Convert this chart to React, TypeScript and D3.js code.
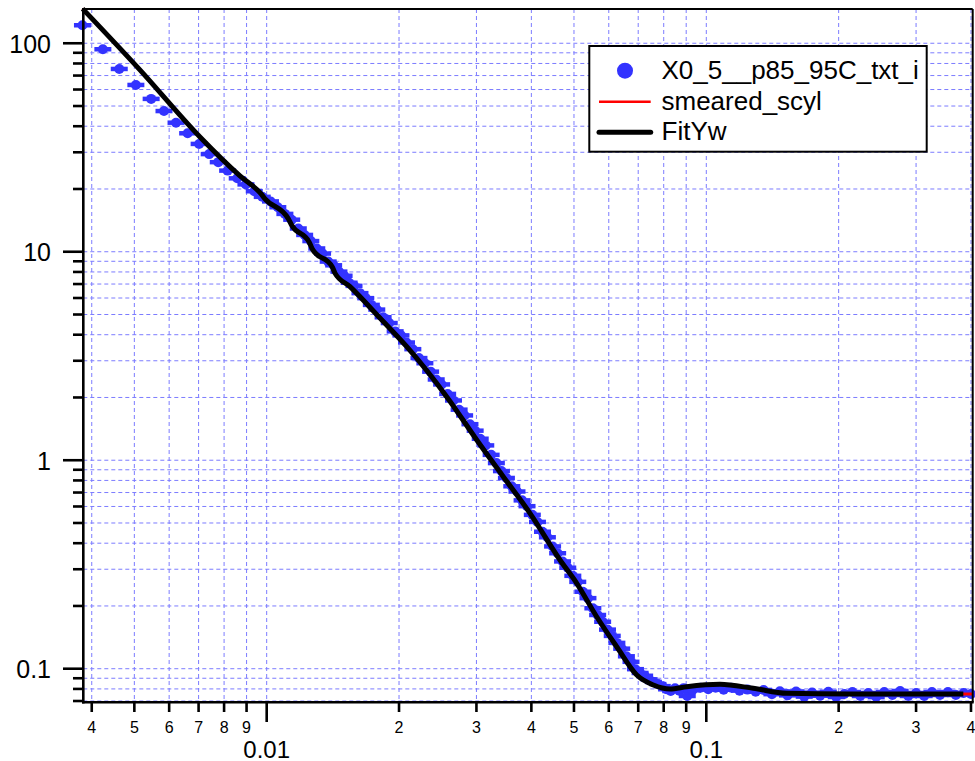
import React from 'react';
import * as d3 from 'd3';

const W = 975;
const H = 761;
const FRAME = { left: 83.3, right: 972.7, top: 9, bottom: 702.3 };
const X_DOMAIN = [0.003827, 0.4036];
const Y_DOMAIN = [0.06901, 146.0];

const qData = [0.00381, 0.00424, 0.00462, 0.00504, 0.00546, 0.00584, 0.00622, 0.00661, 0.00702, 0.0074, 0.00776, 0.00815, 0.00857,
  0.00897, 0.00937, 0.00977, 0.0102, 0.0106, 0.011, 0.0114, 0.0118, 0.0122, 0.0126, 0.013, 0.0134, 0.0138, 0.0142, 0.0146, 0.015, 0.0154, 0.0158,
  0.0163, 0.0168, 0.0173, 0.0178, 0.0184, 0.019, 0.0196, 0.0202, 0.0208, 0.0215, 0.0222, 0.0229, 0.0236, 0.0243, 0.025, 0.0258, 0.0266, 0.0274,
  0.0282, 0.029, 0.0298, 0.0306, 0.0315, 0.0324, 0.0333, 0.0342, 0.0351, 0.0361, 0.0371, 0.0381, 0.0391, 0.0402, 0.0413, 0.0424, 0.0435, 0.0447,
  0.0459, 0.0471, 0.0484, 0.0497, 0.051, 0.0524, 0.0538, 0.0552, 0.0566, 0.0581, 0.0596, 0.0611, 0.0626, 0.0642, 0.0658, 0.0674, 0.069, 0.0707,
  0.0724, 0.0741, 0.0758, 0.0776, 0.0794, 0.0812, 0.083, 0.0849, 0.0868, 0.0888, 0.0905, 0.0908, 0.093, 0.097, 0.101, 0.105, 0.1095, 0.114,
  0.119, 0.124, 0.1295, 0.135, 0.141, 0.147, 0.153, 0.16, 0.167, 0.174, 0.1815, 0.1895, 0.1975, 0.206, 0.215, 0.224, 0.2335, 0.2435, 0.254,
  0.265, 0.276, 0.288, 0.3, 0.313, 0.326, 0.34, 0.3545, 0.3695, 0.385, 0.4];
const iData = [122, 93.6, 75.3, 63.1, 54.1, 47.3, 41.6, 37.0, 32.9, 29.4, 26.9, 24.5, 22.5,
  21.04, 19.51, 18.34, 17.44, 16.35, 15.19, 14.25, 12.93, 12.04, 11.25, 10.37, 9.8, 8.97, 8.61, 8.03, 7.67, 7.1, 6.86,
  6.33, 5.99, 5.56, 5.28, 4.85, 4.55, 4.15, 3.97, 3.67, 3.41, 3.09, 2.92, 2.66, 2.44, 2.31, 2.08, 1.935, 1.748,
  1.64, 1.489, 1.386, 1.268, 1.178, 1.061, 0.969, 0.887, 0.822, 0.75, 0.708, 0.642, 0.602, 0.547, 0.506, 0.454, 0.427, 0.386,
  0.358, 0.327, 0.305, 0.279, 0.261, 0.234, 0.218, 0.195, 0.181, 0.168, 0.154, 0.1437, 0.133, 0.1248, 0.1147, 0.1079, 0.0995, 0.0954,
  0.0925, 0.0889, 0.0864, 0.0844, 0.0825, 0.0797, 0.0782, 0.0805, 0.0784, 0.0807, 0.074, 0.0793, 0.0788, 0.0811, 0.0797, 0.0811, 0.0793, 0.0811,
  0.0785, 0.0794, 0.0776, 0.0791, 0.0755, 0.0779, 0.0745, 0.0778, 0.0735, 0.0768, 0.0742, 0.0775, 0.0732, 0.0757, 0.0773, 0.074, 0.0765, 0.0731, 0.0773,
  0.0748, 0.0782, 0.074, 0.0765, 0.074, 0.0773, 0.0748, 0.0773, 0.0748, 0.0765, 0.0756];

const qFit = [0.003814, 0.005148, 0.007051, 0.008694, 0.0097, 0.0099, 0.0112, 0.0114, 0.0125, 0.0127, 0.0141, 0.0143, 0.01547,
  0.0181, 0.02083, 0.02567, 0.03005, 0.03453, 0.03972, 0.04647, 0.05073, 0.05632, 0.06256, 0.06947, 0.07578, 0.08269, 0.09025, 0.1074,
  0.1279, 0.1524, 0.2123, 0.3843];
const iFit = [146.3, 74.5, 35.5, 23.1, 19.0, 18.0, 14.4, 13.4, 11.1, 10.3, 8.45, 7.9, 6.8,
  4.81, 3.504, 2.018, 1.251, 0.834, 0.5564, 0.3323, 0.2569, 0.1776, 0.1275, 0.0933, 0.08353, 0.07991, 0.08196, 0.08416,
  0.08054, 0.07621, 0.07563, 0.07563];

const qSmeared = [0.003814, 0.005148, 0.007051, 0.008694, 0.0097, 0.0099, 0.0112, 0.0114, 0.0125, 0.0127, 0.0141, 0.0143, 0.01547,
  0.0181, 0.02083, 0.02567, 0.03005, 0.03453, 0.03972, 0.04647, 0.05073, 0.05632, 0.06256, 0.06947, 0.07578, 0.08269, 0.09025, 0.1074,
  0.1279, 0.1524, 0.2123, 0.3843, 0.4036];
const iSmeared = [146.3, 74.5, 35.5, 23.1, 19.0, 18.0, 14.4, 13.4, 11.1, 10.3, 8.45, 7.9, 6.8,
  4.81, 3.504, 2.018, 1.251, 0.834, 0.5564, 0.3323, 0.2569, 0.1776, 0.1275, 0.0933, 0.08353, 0.07991, 0.08196, 0.08416,
  0.08054, 0.07621, 0.07563, 0.07563, 0.07563];

const xMajorTicks = [0.01, 0.1];
const xMajorLabels = ['0.01', '0.1'];
const xMinorTicks = [0.004, 0.005, 0.006, 0.007, 0.008, 0.009, 0.02, 0.03, 0.04, 0.05, 0.06, 0.07, 0.08, 0.09, 0.2, 0.3, 0.4];
const xMinorLabels = ['4', '5', '6', '7', '8', '9', '2', '3', '4', '5', '6', '7', '8', '9', '2', '3', '4'];
const yMajorTicks = [0.1, 1, 10, 100];
const yMajorLabels = ['0.1', '1', '10', '100'];
const yMinorTicks = [0.07, 0.08, 0.09, 0.2, 0.3, 0.4, 0.5, 0.6, 0.7, 0.8, 0.9, 2, 3, 4, 5, 6, 7, 8, 9,
  20, 30, 40, 50, 60, 70, 80, 90];
const legendLabels = ['X0_5__p85_95C_txt_i', 'smeared_scyl', 'FitYw'];

const BLUE = '#3333ff';
const GRID = '#6666ff';
const FONT = 'Liberation Sans, Arial, Helvetica, sans-serif';

export default function App() {
  const x = d3.scaleLog().domain(X_DOMAIN).range([FRAME.left, FRAME.right]);
  const y = d3.scaleLog().domain(Y_DOMAIN).range([FRAME.bottom, FRAME.top]);
  const line = d3.line<number[]>()
    .x((d) => d[0])
    .y((d) => d[1])
    .curve(d3.curveMonotoneX);
  const fitPts = qFit.map((q, i) => [x(q), y(iFit[i])]);
  const smPts = qSmeared.map((q, i) => [x(q), y(iSmeared[i])]);
  const n = Math.min(qData.length, iData.length);
  const dataPts = d3.range(n).map((i) => [x(qData[i]), y(iData[i])]);

  const allX = [...xMinorTicks, ...xMajorTicks];
  const allY = [...yMinorTicks, ...yMajorTicks].filter((v) => v > Y_DOMAIN[0] + 0.0005);

  const lg = { x0: 589.3, y0: 46, x1: 926.7, y1: 151.7 };

  return (
    <svg width={W} height={H} style={{ position: 'absolute', left: 0, top: 0, background: '#fff' }} fontFamily={FONT}>
      <rect x={0} y={0} width={W} height={H} fill="#fff" />
      <g stroke={GRID} strokeWidth={1} strokeDasharray="4,3" opacity={0.85}>
        {allX.map((v, i) => (
          <line key={'gx' + i} x1={x(v)} x2={x(v)} y1={FRAME.top} y2={FRAME.bottom} />
        ))}
        {allY.map((v, i) => (
          <line key={'gy' + i} x1={FRAME.left} x2={FRAME.right} y1={y(v)} y2={y(v)} />
        ))}
      </g>
      <g fill={BLUE} stroke={BLUE}>
        {dataPts.map((p, i) => (
          <g key={'d' + i}>
            <line x1={p[0] - 8.5} x2={p[0] + 8.5} y1={p[1]} y2={p[1]} strokeWidth={4.5} />
            <ellipse cx={p[0]} cy={p[1]} rx={5} ry={5} stroke="none" />
          </g>
        ))}
      </g>
      <path d={line(smPts as any) || ''} fill="none" stroke="#ff0000" strokeWidth={3} />
      <path d={line(fitPts as any) || ''} fill="none" stroke="#000" strokeWidth={5} strokeLinejoin="round" />
      <g stroke="#000" fill="none">
        <line x1={FRAME.left} x2={FRAME.right} y1={FRAME.top} y2={FRAME.top} strokeWidth={2} />
        <line x1={FRAME.right} x2={FRAME.right} y1={FRAME.top} y2={FRAME.bottom} strokeWidth={2} />
        <line x1={FRAME.left} x2={FRAME.left} y1={FRAME.top - 1} y2={FRAME.bottom + 1.2} strokeWidth={2.6} />
        <line x1={FRAME.left - 1.2} x2={FRAME.right + 1} y1={FRAME.bottom} y2={FRAME.bottom} strokeWidth={2.6} />
      </g>
      <g stroke="#000" strokeWidth={2.6}>
        {yMajorTicks.map((v, i) => (
          <line key={'ymt' + i} x1={63} x2={FRAME.left} y1={y(v)} y2={y(v)} />
        ))}
        {yMinorTicks.map((v, i) => (
          <line key={'ymn' + i} x1={73} x2={FRAME.left} y1={y(v)} y2={y(v)} />
        ))}
      </g>
      <g fontSize={25} textAnchor="end" fill="#000">
        {yMajorTicks.map((v, i) => (
          <text key={'yl' + i} x={51} y={y(v) + 9.5}>{yMajorLabels[i]}</text>
        ))}
      </g>
      <g stroke="#000" strokeWidth={2.6}>
        {xMajorTicks.map((v, i) => (
          <line key={'xmt' + i} x1={x(v)} x2={x(v)} y1={FRAME.bottom} y2={722} />
        ))}
        {xMinorTicks.map((v, i) => (
          <line key={'xmn' + i} x1={x(v)} x2={x(v)} y1={FRAME.bottom} y2={712} />
        ))}
      </g>
      <g fontSize={16} textAnchor="middle" fill="#000">
        {xMinorTicks.map((v, i) => (
          <text key={'xl' + i} x={x(v)} y={733}>{xMinorLabels[i]}</text>
        ))}
      </g>
      <g fontSize={24} textAnchor="middle" fill="#000">
        {xMajorTicks.map((v, i) => (
          <text key={'xML' + i} x={x(v)} y={757.5}>{xMajorLabels[i]}</text>
        ))}
      </g>
      <rect x={lg.x0} y={lg.y0} width={lg.x1 - lg.x0} height={lg.y1 - lg.y0} fill="#fff" stroke="#000" strokeWidth={2} />
      <circle cx={625} cy={70.7} r={8} fill={BLUE} />
      <line x1={599} x2={650.7} y1={101.7} y2={101.7} stroke="#ff0000" strokeWidth={2.5} />
      <line x1={599} x2={650.7} y1={132.3} y2={132.3} stroke="#000" strokeWidth={5} strokeLinecap="round" />
      <g fontSize={26} fill="#000">
        {legendLabels.map((t, i) => (
          <text key={'lg' + i} x={661.5} y={78.8 + i * 30.7}>{t}</text>
        ))}
      </g>
    </svg>
  );
}
